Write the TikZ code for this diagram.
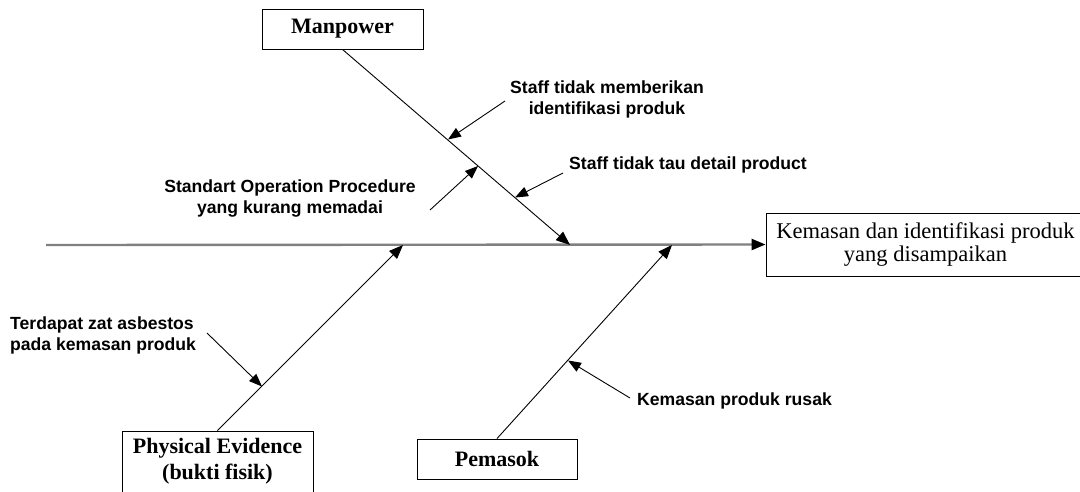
\documentclass[tikz,border=0pt]{standalone}
\usepackage{fontspec}
\setmainfont{Liberation Serif}
\newfontfamily\labelfont{Liberation Sans}
\usetikzlibrary{arrows.meta}

\begin{document}
\begin{tikzpicture}[x=1pt,y=-1pt,
  catbox/.style={draw=black, line width=0.9pt, inner sep=0pt, align=center,
    font=\fontsize{22}{26}\selectfont\bfseries},
  effectbox/.style={draw=black, line width=0.9pt, inner sep=0pt, align=center,
    font=\fontsize{22.5}{24}\selectfont},
  causelabel/.style={inner sep=0pt, font=\labelfont\bfseries\fontsize{17.6}{21}\selectfont},
  spine/.style={draw=black!50, line width=2.4pt,
    -{Triangle[length=14pt,width=11pt,color=black]}},
  bone/.style={draw=black, line width=0.9pt,
    -{Triangle[length=14pt,width=11pt]}},
  subcause/.style={draw=black, line width=0.9pt,
    -{Triangle[length=13pt,width=10pt]}}
]
\useasboundingbox (0,0) rectangle (1080,491);

% category and effect boxes
\node[catbox, minimum width=161pt, minimum height=40pt] (manpower) at (342.5,29) {Manpower};
\node[catbox, minimum width=191pt, minimum height=61pt] (physical) at (217.5,461.5)
  {Physical Evidence\\(bukti fisik)};
\node[catbox, minimum width=160pt, minimum height=40pt] (pemasok) at (497,459) {Pemasok};
\node[effectbox, minimum width=319pt, minimum height=63pt] (effect) at (925.5,244.5)
  {Kemasan dan identifikasi produk\\yang disampaikan};

% main spine
\coordinate (spineL) at (46,245);
\draw[spine] (spineL) -- (effect.west);

% bones meeting the spine
\coordinate (manTip) at (570,245);
\coordinate (physTip) at (403,245);
\coordinate (pemTip) at (672,245);
\draw[bone] (manpower.south) -- (manTip);
\draw[bone] (physical.north) -- (physTip);
\draw[bone] (pemasok.north) -- (pemTip);

% cause labels
\node[causelabel, align=center] (c1) at (607,99)
  {Staff tidak memberikan\\identifikasi produk};
\node[causelabel, align=center] (c2) at (290,198)
  {Standart Operation Procedure\\yang kurang memadai};
\node[causelabel, anchor=west] (c3) at (569,165) {Staff tidak tau detail product};
\node[causelabel, align=left, anchor=west] (c4) at (10,335)
  {Terdapat zat asbestos\\pada kemasan produk};
\node[causelabel, anchor=west] (c5) at (637,401) {Kemasan produk rusak};

% sub-cause arrows
\coordinate (t1) at (505,101);  \coordinate (h1) at (448,139.5);
\coordinate (t2) at (430,210);  \coordinate (h2) at (478,166);
\coordinate (t3) at (563,173);  \coordinate (h3) at (515,197.5);
\coordinate (t4) at (207,333);  \coordinate (h4) at (262,386.5);
\coordinate (t5) at (630,398);  \coordinate (h5) at (568,360.5);
\draw[subcause] (t1) -- (h1);
\draw[subcause] (t2) -- (h2);
\draw[subcause] (t3) -- (h3);
\draw[subcause] (t4) -- (h4);
\draw[subcause] (t5) -- (h5);
\end{tikzpicture}
\end{document}
